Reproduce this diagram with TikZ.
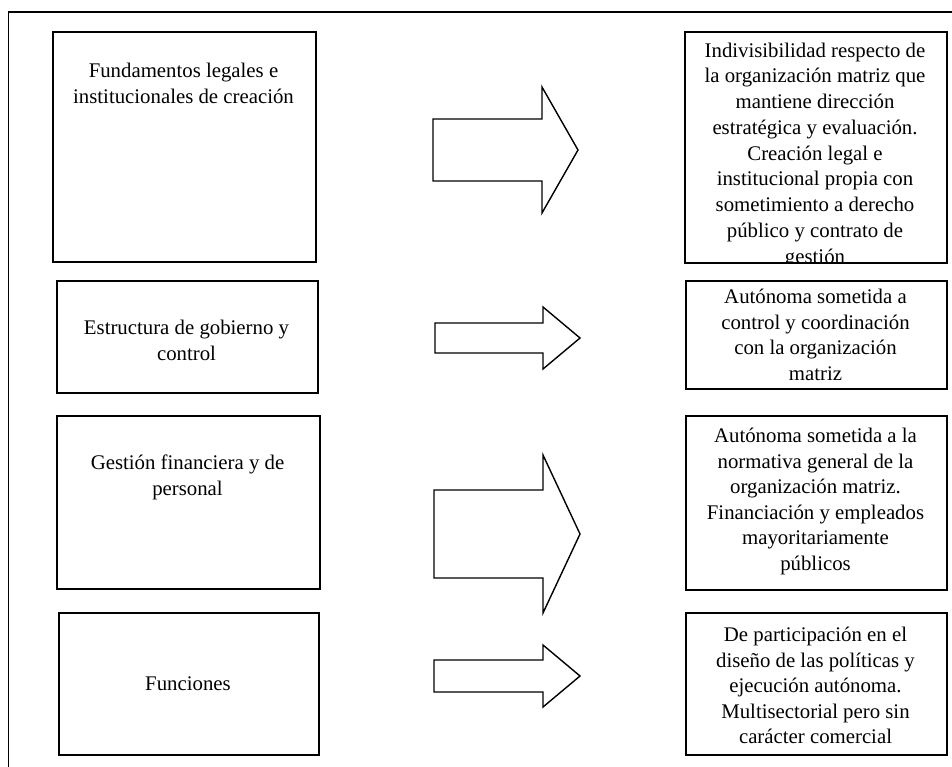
\documentclass[tikz,border=0pt]{standalone}
\usepackage{fontspec}
\setmainfont{Liberation Serif}
\begin{document}
\begin{tikzpicture}[x=1pt,y=-1pt,
  boxshape/.style={draw=black,line width=1.8pt,inner sep=0pt,anchor=north west},
  txt/.style={font=\fontsize{20.8}{25.5}\selectfont,align=center,inner sep=0pt,anchor=north},
  blockarrow/.style={draw=black,line width=1.4pt,line join=miter,fill=white}]
\useasboundingbox (0,0) rectangle (952,767);
% outer frame (only top and left visible)
\draw[line width=1.6pt] (8.5,767) -- (8.5,12) -- (952,12);
% right box 1 text, cut by the box bottom
\begin{scope}
\clip (684,31) rectangle (946,262);
\node[txt,font=\fontsize{20.8}{25.75}\selectfont] (R1t) at (815,42.5) {Indivisibilidad respecto de\\la organización matriz que\\mantiene dirección\\estratégica y evaluación.\\Creación legal e\\institucional propia con\\sometimiento a derecho\\público y contrato de\\gestión};
\end{scope}
% left boxes
\node[boxshape,minimum width=263pt,minimum height=230pt] (L1) at (52,31) {};
\node[boxshape,minimum width=261pt,minimum height=112pt] (L2) at (56,280) {};
\node[boxshape,minimum width=263pt,minimum height=173pt] (L3) at (56,415) {};
\node[boxshape,minimum width=260pt,minimum height=142pt] (L4) at (58,612) {};
% right boxes
\node[boxshape,minimum width=262pt,minimum height=231pt] (R1) at (684,31) {};
\node[boxshape,minimum width=261pt,minimum height=108pt] (R2) at (685,280) {};
\node[boxshape,minimum width=261pt,minimum height=174pt] (R3) at (685,415) {};
\node[boxshape,minimum width=261pt,minimum height=142pt] (R4) at (685,612) {};
% left texts
\node[txt] (L1t) at (183.5,63) {Fundamentos legales e\\institucionales de creación};
\node[txt] (L2t) at (186.5,320) {Estructura de gobierno y\\control};
\node[txt] (L3t) at (187.5,455) {Gestión financiera y de\\personal};
\node[txt,anchor=center] (L4t) at (188,684) {Funciones};
% right texts
\node[txt] (R2t) at (815.5,289) {Autónoma sometida a\\control y coordinación\\con la organización\\matriz};
\node[txt] (R3t) at (815.5,428) {Autónoma sometida a la\\normativa general de la\\organización matriz.\\Financiación y empleados\\mayoritariamente\\públicos};
\node[txt] (R4t) at (815.5,627) {De participación en el\\diseño de las políticas y\\ejecución autónoma.\\Multisectorial pero sin\\carácter comercial};
% block arrows
\draw[blockarrow] (433,119) -- (542,119) -- (542,87) -- (578,150) -- (542,213) -- (542,181) -- (433,181) -- cycle;
\draw[blockarrow] (435,323) -- (543,323) -- (543,307) -- (580,338) -- (543,369) -- (543,353) -- (435,353) -- cycle;
\draw[blockarrow] (434,490) -- (543,490) -- (543,455) -- (580,534) -- (543,613) -- (543,578) -- (434,578) -- cycle;
\draw[blockarrow] (434,660) -- (543,660) -- (543,645) -- (580,676) -- (543,707) -- (543,692) -- (434,692) -- cycle;
\end{tikzpicture}
\end{document}
